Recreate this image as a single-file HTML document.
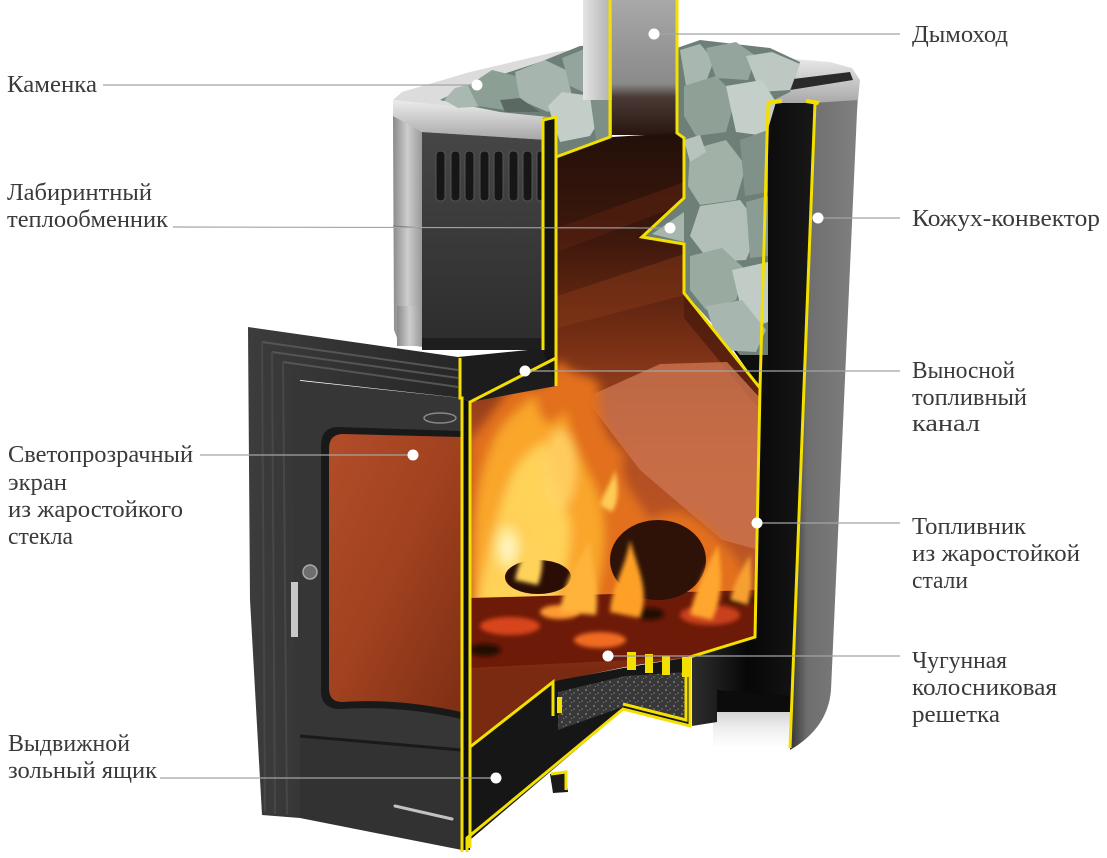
<!DOCTYPE html>
<html><head><meta charset="utf-8">
<style>
html,body{margin:0;padding:0;background:#fff;}
svg{display:block;}
text{font-family:"Liberation Serif","DejaVu Serif",serif;font-size:24px;fill:#3a3a3a;}
</style></head>
<body>
<svg xmlns="http://www.w3.org/2000/svg" width="1107" height="858" viewBox="0 0 1107 858">
<defs>
  <linearGradient id="gShell" x1="0" y1="0" x2="1" y2="0">
    <stop offset="0" stop-color="#333"/><stop offset=".25" stop-color="#6e6e6e"/><stop offset="1" stop-color="#808080"/>
  </linearGradient>
  <linearGradient id="gBand" x1="0" y1="0" x2="1" y2="0">
    <stop offset="0" stop-color="#2e2e2e"/><stop offset=".45" stop-color="#070707"/><stop offset="1" stop-color="#181818"/>
  </linearGradient>
  <linearGradient id="gSide" x1="0" y1="0" x2="1" y2="0">
    <stop offset="0" stop-color="#8a8a8a"/><stop offset=".5" stop-color="#cdcdcd"/><stop offset="1" stop-color="#9a9a9a"/>
  </linearGradient>
  <linearGradient id="gSilver" x1="0" y1="0" x2="0" y2="1">
    <stop offset="0" stop-color="#ececec"/><stop offset="1" stop-color="#a6a6a6"/>
  </linearGradient>
  <linearGradient id="gFront" x1="0" y1="0" x2="0" y2="1">
    <stop offset="0" stop-color="#464646"/><stop offset="1" stop-color="#2c2c2c"/>
  </linearGradient>
  <linearGradient id="gPipeL" x1="0" y1="0" x2="1" y2="0">
    <stop offset="0" stop-color="#e4e4e4"/><stop offset="1" stop-color="#b0b0b0"/>
  </linearGradient>
  <linearGradient id="gPipeR" x1="0" y1="0" x2="0" y2="1">
    <stop offset="0" stop-color="#a8a8a8"/><stop offset=".62" stop-color="#8a8a8a"/><stop offset=".72" stop-color="#4a3a35"/><stop offset="1" stop-color="#2a1610"/>
  </linearGradient>
  <linearGradient id="gInt" gradientUnits="userSpaceOnUse" x1="0" y1="133" x2="0" y2="670">
    <stop offset="0" stop-color="#22100a"/><stop offset=".2" stop-color="#3e180c"/><stop offset=".4" stop-color="#7a3015"/>
    <stop offset=".6" stop-color="#b24e22"/><stop offset=".8" stop-color="#bb5626"/><stop offset="1" stop-color="#7a2a10"/>
  </linearGradient>
  <linearGradient id="gGlass" x1="0" y1="0" x2="1" y2="1">
    <stop offset="0" stop-color="#b24d29"/><stop offset=".5" stop-color="#a0411f"/><stop offset="1" stop-color="#7e2e14"/>
  </linearGradient>
  <linearGradient id="gDoor" x1="0" y1="0" x2="1" y2="0">
    <stop offset="0" stop-color="#3c3c3c"/><stop offset="1" stop-color="#262626"/>
  </linearGradient>
  <linearGradient id="gFloor" x1="0" y1="0" x2="0" y2="1">
    <stop offset="0" stop-color="#d0d0d0"/><stop offset=".5" stop-color="#f0f0f0"/><stop offset="1" stop-color="#ffffff"/>
  </linearGradient>
  <radialGradient id="gCore" cx=".5" cy=".5" r=".5">
    <stop offset="0" stop-color="#fffbe0"/><stop offset=".6" stop-color="#ffe27a"/><stop offset="1" stop-color="#ffb02e" stop-opacity="0"/>
  </radialGradient>
  <filter id="bl" x="-30%" y="-30%" width="160%" height="160%"><feGaussianBlur stdDeviation="5"/></filter>
  <filter id="bl2" x="-30%" y="-30%" width="160%" height="160%"><feGaussianBlur stdDeviation="2"/></filter>
  <clipPath id="cInt">
    <polygon points="556,157 612,137 677,133 684,140 684,198 642,237 684,244 684,293 760,388 755,637 690,657 630,666 553,682 470,747 470,402 556,358"/>
  </clipPath>
  <pattern id="pRub" width="8" height="8" patternUnits="userSpaceOnUse">
    <rect width="8" height="8" fill="#383838"/><rect x="1" y="1" width="2" height="2" fill="#6a6a6a"/>
    <rect x="5" y="4" width="2" height="2" fill="#555"/><rect x="3" y="6" width="1" height="1" fill="#7a7a7a"/>
  </pattern>
</defs>

<rect width="1107" height="858" fill="#fff"/>

<!-- Right outer shell -->
<path d="M812,100 L858,96 L857,112 L831,690 Q828,728 790,750 Z" fill="url(#gShell)"/>
<polygon points="758,56 830,62 852,68 860,80 858,100 812,103 768,105" fill="url(#gSilver)"/>
<polygon points="785,80 850,72 853,80 790,90" fill="#2a2a2a"/>

<!-- floor under firebox -->
<polygon points="713,710 791,710 790,748 713,748" fill="url(#gFloor)"/>
<!-- black convector band + base -->
<polygon points="768,103 815,103 792,712 717,712 717,722 692,726 692,657 755,637 760,388" fill="url(#gBand)"/>
<polygon points="717,690 792,696 792,712 717,712" fill="#0c0c0c"/>
<polygon points="684,280 768,280 768,400 760,388" fill="#0e0e0e"/>

<!-- Kamenka left -->
<polygon points="393,100 402,92 470,72 555,52 590,48 590,70 548,117" fill="#dcdcdc"/>
<polygon points="393,100 548,117 548,140 422,132 393,118" fill="url(#gSilver)"/>
<polygon points="393,116 422,132 422,347 399,343 394,330" fill="url(#gSide)"/>
<polygon points="422,132 548,140 548,350 422,347" fill="url(#gFront)"/>
<line x1="393" y1="226" x2="422" y2="228" stroke="#777" stroke-width="1"/>
<g fill="#161616" stroke="#555" stroke-width="1">
  <rect x="436" y="151" width="9" height="50" rx="4"/>
  <rect x="451" y="151" width="9" height="50" rx="4"/>
  <rect x="465" y="151" width="9" height="50" rx="4"/>
  <rect x="480" y="151" width="9" height="50" rx="4"/>
  <rect x="494" y="151" width="9" height="50" rx="4"/>
  <rect x="509" y="151" width="9" height="50" rx="4"/>
  <rect x="523" y="151" width="9" height="50" rx="4"/>
  <rect x="537" y="151" width="7" height="50" rx="3"/>
</g>
<rect x="397" y="306" width="25" height="40" fill="url(#gSide)"/>
<rect x="422" y="338" width="126" height="12" fill="#1e1e1e"/>

<!-- stones left -->
<polygon points="440,100 470,85 540,62 580,46 612,44 612,137 556,157 548,117 500,112" fill="#6d7f77"/>
<polygon points="444,100 455,88 475,83 490,93 484,106 458,108" fill="#a9b8b0"/>
<polygon points="468,86 492,70 516,76 522,96 505,110 478,106" fill="#8c9f95"/>
<polygon points="515,72 545,60 566,70 572,96 548,112 520,100" fill="#a6b5ad"/>
<polygon points="548,106 562,92 592,96 602,116 590,136 560,142" fill="#c2cec7"/>
<polygon points="562,58 592,46 612,48 612,90 590,95 570,86" fill="#93a59c"/>
<polygon points="590,96 612,92 612,137 596,140" fill="#7d8f86"/>
<polygon points="500,100 520,98 540,112 505,112" fill="#5a6a63"/>

<!-- stones right -->
<polygon points="677,48 700,40 770,48 800,62 790,92 768,103 768,355 740,355 700,310 684,293 684,244 642,237 684,198 684,138 677,133" fill="#6d7f77"/>
<polygon points="680,50 700,44 714,60 706,82 686,86" fill="#a8b7af"/>
<polygon points="706,48 736,42 756,56 748,80 716,78" fill="#93a59c"/>
<polygon points="746,56 772,52 800,64 790,90 760,92" fill="#bcc8c1"/>
<polygon points="684,86 716,76 736,96 726,132 696,136 684,116" fill="#8fa197"/>
<polygon points="726,86 762,80 776,102 766,136 736,132" fill="#c4cfc9"/>
<polygon points="690,150 726,140 746,166 736,200 700,205 688,186" fill="#a1b1a8"/>
<polygon points="740,140 768,130 768,192 745,196" fill="#7f9188"/>
<polygon points="700,206 740,200 760,226 746,260 710,262 690,236" fill="#b3c0b9"/>
<polygon points="746,202 768,196 768,256 750,258" fill="#8a9c93"/>
<polygon points="690,256 722,248 746,270 736,300 706,310 690,290" fill="#99aaa1"/>
<polygon points="732,270 768,262 768,322 746,330" fill="#c0ccc5"/>
<polygon points="706,306 742,300 766,330 756,352 720,350" fill="#a7b6ae"/>
<polygon points="652,234 684,212 684,242" fill="#a6b5ad"/>
<polygon points="684,140 700,135 706,152 690,162" fill="#b7c4bd"/>

<!-- chimney pipe -->
<rect x="583" y="0" width="29" height="100" fill="url(#gPipeL)"/>
<rect x="612" y="0" width="65" height="135" fill="url(#gPipeR)"/>

<!-- interior -->
<polygon points="556,157 612,137 677,133 684,140 684,198 642,237 684,244 684,293 760,388 755,637 690,657 630,666 553,682 470,747 470,402 556,358" fill="url(#gInt)"/>
<g clip-path="url(#cInt)">
  <polygon points="557,228 684,182 684,204 557,252" fill="#5a2212" opacity=".55"/>
  <polygon points="557,296 690,252 705,290 557,328" fill="#8a3a18" opacity=".45"/>
  <polygon points="684,293 760,388 760,410 684,318" fill="#4a1a0c" opacity=".7"/>
  <polygon points="585,398 660,364 727,362 760,398 760,550 722,540 640,470" fill="#cc7450" opacity=".8"/>
  <g filter="url(#bl)">
    <path d="M470,660 L470,440 C490,420 500,395 520,380 C540,400 548,375 560,360 C575,380 590,370 600,385 C595,420 610,440 625,455 C615,480 640,500 650,520 C680,500 700,520 720,540 C740,560 756,580 756,640 Z" fill="#e2701c"/>
    <path d="M472,625 C474,560 470,500 490,450 C500,420 520,410 535,395 C540,430 555,430 565,410 C572,450 590,470 600,500 C610,540 600,580 590,620 Z" fill="#f9a62c"/>
    <path d="M478,605 C485,560 495,520 510,480 C520,455 535,450 545,440 C548,480 560,500 570,520 C572,560 560,590 550,610 Z" fill="#ffd258"/>
    <ellipse cx="508" cy="548" rx="20" ry="36" fill="url(#gCore)"/>
    <ellipse cx="560" cy="470" rx="16" ry="40" fill="#ffd66a" opacity=".8"/>
  </g>
  <polygon points="470,598 758,590 758,640 690,657 470,668" fill="#6e1a08"/>
  <g filter="url(#bl2)">
    <ellipse cx="510" cy="626" rx="30" ry="9" fill="#d8441a"/>
    <ellipse cx="600" cy="640" rx="26" ry="8" fill="#f06a22"/>
    <ellipse cx="710" cy="615" rx="30" ry="10" fill="#c8401a"/>
    <ellipse cx="560" cy="612" rx="20" ry="7" fill="#ff9a30"/>
    <ellipse cx="650" cy="614" rx="14" ry="6" fill="#220804"/>
    <ellipse cx="485" cy="650" rx="16" ry="6" fill="#220804"/>
    <ellipse cx="740" cy="600" rx="14" ry="5" fill="#2a0a04"/>
  </g>
  <ellipse cx="538" cy="577" rx="33" ry="17" fill="#2a0e06"/>
  <ellipse cx="658" cy="560" rx="48" ry="40" fill="#2e1208"/>
  <g filter="url(#bl2)">
    <path d="M560,612 C565,575 580,560 590,540 C592,570 600,590 596,615 Z" fill="#ffb33a"/>
    <path d="M610,612 C612,585 625,570 630,540 C638,570 650,590 640,618 Z" fill="#ffa028"/>
    <path d="M515,580 C520,555 530,545 540,530 C542,550 545,565 538,585 Z" fill="#ffd35a"/>
    <path d="M690,615 C696,585 708,565 718,545 C722,575 724,595 712,620 Z" fill="#ffa62e"/>
    <path d="M730,600 C735,580 742,570 750,555 C752,575 752,590 748,605 Z" fill="#f7a030"/>
    <path d="M600,505 C605,490 612,482 615,470 C618,485 620,500 612,512 Z" fill="#ffcc55"/>
  </g>
</g>

<!-- Door -->
<polygon points="248,327 458,357 462,362 462,398 300,380 300,818 262,815 250,600" fill="url(#gDoor)"/>
<path d="M262,342 L458,370 M272,352 L458,378 M283,362 L458,387" stroke="#555" stroke-width="2" fill="none"/>
<path d="M262,342 L265,812 M272,352 L275,814 M283,362 L287,815" stroke="#474747" stroke-width="2" fill="none"/>
<polygon points="292,380 461,398 461,752 297,740" fill="#363636"/>
<path d="M321,446 Q321,427 338,427 L461,431 L461,719 Q400,705 340,709 Q321,709 321,691 Z" fill="#191919"/>
<path d="M329,449 Q329,434 343,434 L461,437 L461,712 Q400,698 342,702 Q329,702 329,688 Z" fill="url(#gGlass)"/>
<ellipse cx="440" cy="418" rx="16" ry="5" fill="none" stroke="#8a8a8a" stroke-width="1.5"/>
<circle cx="310" cy="572" r="7" fill="#6e6e6e" stroke="#aaa" stroke-width="1.5"/>
<rect x="291" y="582" width="7" height="55" fill="#c8c8c8"/>
<polygon points="300,736 461,748 462,850 300,818" fill="#323232"/>
<line x1="300" y1="736" x2="461" y2="750" stroke="#1a1a1a" stroke-width="3"/>
<line x1="395" y1="806" x2="452" y2="819" stroke="#c2c2c2" stroke-width="3" stroke-linecap="round"/>

<!-- black cut pieces -->
<polygon points="458,357 548,348 556,352 556,386 470,402 462,398 462,362" fill="#1c1c1c"/>
<polygon points="462,398 470,402 470,850 462,850" fill="#0d0d0d"/>
<polygon points="543,118 556,116 556,386 543,350" fill="#141414"/>
<polygon points="470,747 553,682 560,680 623,668 690,657 690,726 623,710 470,840" fill="#161616"/>
<polygon points="558,692 625,676 686,672 686,722 625,706 558,730" fill="url(#pRub)"/>
<polygon points="550,774 566,772 568,792 553,793" fill="#1a1a1a"/>

<!-- yellow contours -->
<g fill="none" stroke="#f4e000" stroke-width="3" stroke-linejoin="miter">
  <path d="M543,350 L543,120 L556,117 L556,386"/>
  <path d="M556,157 L610,137 L610,0"/>
  <path d="M677,0 L677,133 L684,138 L684,198 L642,237 L684,244 L684,293 L760,388 L755,637 L690,657 L690,726 L623,709 L467,838 L467,852"/>
  <path d="M686,676 L686,720 L623,704"/>
  <path d="M470,848 L470,402 L556,358"/>
  <path d="M460,358 L460,398 L462,398 L462,852"/>
  <path d="M470,747 L553,682 L553,716"/>
  <path d="M768,103 L760,388"/>
  <path d="M815,103 L790,748"/>
  <path d="M551,774 L566,772 L566,790"/>
</g>
<g fill="#f4e000">
  <rect x="627" y="652" width="9" height="18"/>
  <rect x="645" y="654" width="8" height="19"/>
  <rect x="662" y="656" width="8" height="19"/>
  <rect x="682" y="657" width="8" height="20"/>
  <rect x="557" y="697" width="5" height="16"/>
  <polygon points="766,101 782,99 782,103 768,105"/>
  <polygon points="806,99 820,101 818,105 806,103"/>
</g>

<!-- leader lines -->
<g stroke="#a4a4a4" stroke-width="1.2">
  <line x1="103" y1="85" x2="477" y2="85"/>
  <line x1="173" y1="227" x2="670" y2="228"/>
  <line x1="654" y1="34" x2="900" y2="34"/>
  <line x1="818" y1="218" x2="900" y2="218"/>
  <line x1="525" y1="371" x2="900" y2="371"/>
  <line x1="200" y1="455" x2="413" y2="455"/>
  <line x1="757" y1="523" x2="900" y2="523"/>
  <line x1="608" y1="656" x2="900" y2="656"/>
  <line x1="160" y1="778" x2="496" y2="778"/>
</g>
<g fill="#fff">
  <circle cx="477" cy="85" r="5.5"/>
  <circle cx="670" cy="228" r="5.5"/>
  <circle cx="654" cy="34" r="5.5"/>
  <circle cx="818" cy="218" r="5.5"/>
  <circle cx="525" cy="371" r="5.5"/>
  <circle cx="413" cy="455" r="5.5"/>
  <circle cx="757" cy="523" r="5.5"/>
  <circle cx="608" cy="656" r="5.5"/>
  <circle cx="496" cy="778" r="5.5"/>
</g>

<!-- labels left -->
<text x="7" y="92" textLength="90" lengthAdjust="spacingAndGlyphs">Каменка</text>
<text x="7" y="200" textLength="145" lengthAdjust="spacingAndGlyphs">Лабиринтный</text>
<text x="7" y="227" textLength="161" lengthAdjust="spacingAndGlyphs">теплообменник</text>
<text x="8" y="462" textLength="185" lengthAdjust="spacingAndGlyphs">Светопрозрачный</text>
<text x="8" y="490" textLength="59" lengthAdjust="spacingAndGlyphs">экран</text>
<text x="8" y="517" textLength="175" lengthAdjust="spacingAndGlyphs">из жаростойкого</text>
<text x="8" y="544" textLength="65" lengthAdjust="spacingAndGlyphs">стекла</text>
<text x="8" y="751" textLength="122" lengthAdjust="spacingAndGlyphs">Выдвижной</text>
<text x="8" y="778" textLength="149" lengthAdjust="spacingAndGlyphs">зольный ящик</text>

<!-- labels right -->
<text x="912" y="42" textLength="96" lengthAdjust="spacingAndGlyphs">Дымоход</text>
<text x="912" y="226" textLength="188" lengthAdjust="spacingAndGlyphs">Кожух-конвектор</text>
<text x="912" y="378" textLength="103" lengthAdjust="spacingAndGlyphs">Выносной</text>
<text x="912" y="405" textLength="115" lengthAdjust="spacingAndGlyphs">топливный</text>
<text x="912" y="431" textLength="68" lengthAdjust="spacingAndGlyphs">канал</text>
<text x="912" y="534" textLength="114" lengthAdjust="spacingAndGlyphs">Топливник</text>
<text x="912" y="561" textLength="168" lengthAdjust="spacingAndGlyphs">из жаростойкой</text>
<text x="912" y="588" textLength="56" lengthAdjust="spacingAndGlyphs">стали</text>
<text x="912" y="668" textLength="95" lengthAdjust="spacingAndGlyphs">Чугунная</text>
<text x="912" y="695" textLength="145" lengthAdjust="spacingAndGlyphs">колосниковая</text>
<text x="912" y="722" textLength="88" lengthAdjust="spacingAndGlyphs">решетка</text>
</svg>
</body></html>
